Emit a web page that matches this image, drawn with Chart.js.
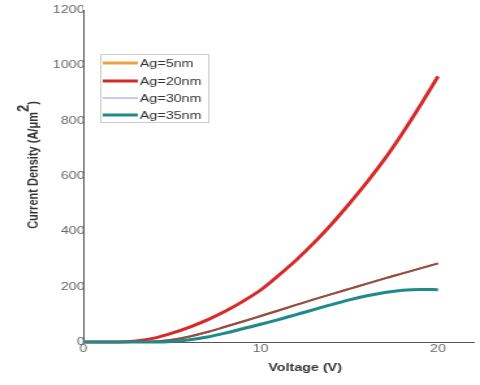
<!DOCTYPE html>
<html>
<head>
<meta charset="utf-8">
<script src="https://cdn.jsdelivr.net/npm/chart.js@4"></script>
<style>
html,body{margin:0;padding:0;background:#fff;overflow:hidden;}
#wrap{width:369px;height:385px;transform:scaleX(1.3008);transform-origin:0 0;}
</style>
</head>
<body>
<div id="wrap"><canvas id="c" width="369" height="385"></canvas></div>
<script>
const voltage = [0,1,2,3,4,5,6,7,8,9,10,11,12,13,14,15,16,17,18,19,20];
const ag5  = [0,0,0,0,2,8,20,36,55,74,94,114,134,154,173,192,211,230,248,266,284];
const ag20 = [0,0,0,4,14,32,54,80,111,147,188,240,296,358,426,500,578,662,755,855,960];
const ag30 = [0,0,0,0,2,8,20,36,55,74,94,114,134,154,173,192,211,230,248,266,284];
const ag35 = [0,0,0,0,0,2,8,18,32,48,64,81,99,117,135,152,167,179,187,190,189];
const labels = ['Ag=5nm','Ag=20nm','Ag=30nm','Ag=35nm'];
const yTicks = [0,200,400,600,800,1000,1200];
const xTicks = [0,10,20];

const legendColors = ['#f0a040','#d42a2a','#b8b8e8','#1f8a8a'];
const legendWidths = [3,3,1.5,3];

function pts(arr){ return voltage.map((v,i)=>({x:v,y:arr[i]})); }

const overlay = {
  id:'overlay',
  afterDraw(chart){
    const ctx = chart.ctx;
    ctx.save();
    const bx=77, by=54, bw=83, bh=68;
    ctx.fillStyle='#fff';
    ctx.fillRect(bx,by,bw,bh);
    ctx.strokeStyle='#cccccc';
    ctx.lineWidth=1;
    ctx.strokeRect(bx+0.5,by+0.5,bw,bh);
    ctx.font='11px "Liberation Sans", Arial, sans-serif';
    ctx.textBaseline='middle';
    ctx.textAlign='left';
    const rows=[63,81,98,115];
    labels.forEach((l,i)=>{
      ctx.strokeStyle=legendColors[i];
      ctx.lineWidth=legendWidths[i];
      ctx.beginPath();
      ctx.moveTo(79,rows[i]);
      ctx.lineTo(106,rows[i]);
      ctx.stroke();
      ctx.fillStyle='#333';
      ctx.fillText(l,107.5,rows[i]+0.5);
    });
    ctx.fillStyle='#333';
    ctx.font='bold 11px "Liberation Sans", Arial, sans-serif';
    ctx.textAlign='center';
    ctx.textBaseline='middle';
    ctx.fillText('Voltage (V)',234.5,368);
    ctx.translate(26,165);
    ctx.rotate(-Math.PI/2);
    const f='bold 11px "Liberation Sans", Arial, sans-serif';
    const fs='bold 13px "Liberation Sans", Arial, sans-serif';
    const t1='Current Density (A/\u03bcm', t2='2', t3=')';
    ctx.font=f; const w1=ctx.measureText(t1).width; const w3=ctx.measureText(t3).width;
    ctx.font=fs; const w2=ctx.measureText(t2).width;
    let x=-(w1+w2+w3)/2;
    ctx.textAlign='left';
    ctx.font=f; ctx.fillText(t1,x,0); x+=w1;
    ctx.font=fs; ctx.fillText(t2,x,-8); x+=w2;
    ctx.font=f; ctx.fillText(t3,x,0);
    ctx.restore();
  }
};

new Chart(document.getElementById('c'),{
  type:'line',
  data:{
    datasets:[
      {label:labels[3],data:pts(ag35),borderColor:'#1f8a8a',borderWidth:3,order:0},
      {label:labels[2],data:pts(ag30),borderColor:'#8f4e48',borderWidth:2,order:1},
      {label:labels[0],data:pts(ag5),borderColor:'#d08040',borderWidth:2,order:2},
      {label:labels[1],data:pts(ag20),borderColor:'#d42a2a',borderWidth:3,order:3}
    ]
  },
  options:{
    responsive:false,
    animation:false,
    devicePixelRatio:1,
    layout:{padding:{top:10,right:5,left:0,bottom:0}},
    elements:{point:{radius:0},line:{tension:0.4,cubicInterpolationMode:'monotone',fill:false}},
    datasets:{line:{clip:false}},
    plugins:{legend:{display:false},tooltip:{enabled:false}},
    scales:{
      x:{
        type:'linear',min:0,max:22,
        afterBuildTicks(s){ s.ticks = xTicks.map(v=>({value:v})); },
        afterFit(s){ s.height=43; },
        grid:{display:false,drawTicks:false,tickLength:0},
        border:{display:true,color:'#555',width:1},
        ticks:{padding:0,color:'#666',font:{family:'"Liberation Sans", Arial, sans-serif',size:11},maxRotation:0,callback:v=>String(v)}
      },
      y:{
        type:'linear',min:0,max:1200,
        afterBuildTicks(s){ s.ticks = yTicks.map(v=>({value:v})); },
        afterFit(s){ s.width=64; },
        grid:{display:false,drawTicks:false,tickLength:0},
        border:{display:true,color:'#555',width:1},
        ticks:{padding:-1,color:'#666',font:{family:'"Liberation Sans", Arial, sans-serif',size:11},callback:v=>String(v)}
      }
    }
  },
  plugins:[overlay]
});
</script>
</body>
</html>
